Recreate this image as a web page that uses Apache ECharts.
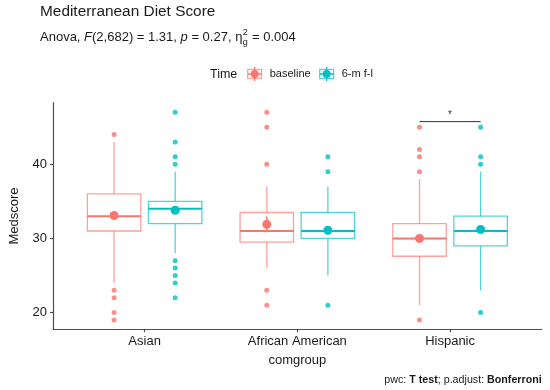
<!DOCTYPE html>
<html><head><meta charset="utf-8">
<script src="https://cdn.jsdelivr.net/npm/echarts@6/dist/echarts.min.js"></script>
<style>html,body{margin:0;padding:0;background:#fff}#c{width:550px;height:390px}</style>
</head><body><div id="c"></div>
<script>
// ---- data ----
const categories = ['Asian', 'African American', 'Hispanic'];
const groups = ['baseline', '6-m f-l'];
// [lower whisker, Q1, median, Q3, upper whisker]
const baselineBox = [[24, 31, 33, 36, 43], [26, 29.5, 31, 33.5, 37], [21, 27.6, 30, 32, 38]];
const followBox = [[28, 32, 34, 35, 39], [25, 30, 31, 33.5, 37], [23, 29, 31, 33, 39]];
const baselineMean = [33.1, 31.9, 30.0];
const followMean = [33.8, 31.1, 31.2];
const baselineSE = [0.4, 1.05, 0.4];
const followSE = [0.4, 0.5, 0.4];
const baselineOutliers = [[44, 23, 22, 20, 19], [47, 45, 40, 23, 21], [45, 42, 41, 39, 19]];
const followOutliers = [[47, 43, 41, 40, 27, 26, 25, 24, 22], [41, 39, 21], [45, 41, 40, 20]];
const yTicks = [20, 30, 40];
const sigCategory = 2;      // index of Hispanic
const sigY = 45.75;
const sigLabel = '*';

// ---- style ----
const FF = 'Liberation Sans, Arial, sans-serif';
const colors = ['#F8766D', '#00BFC4'];
const lights = ['rgba(248,118,109,0.68)', 'rgba(0,191,196,0.68)'];
const dodge = 0.2, boxWidth = 0.35;
const textColor = '#1a1a1a', axisColor = '#4d4d4d';

function boxSeries(gi, box, mean, se, offset) {
  const color = colors[gi], light = lights[gi];
  return {
    type: 'custom', name: groups[gi], z: 2,
    data: box.map((b, i) => [i + 1 + offset, b[0], b[1], b[2], b[3], b[4], mean[i], se[i]]),
    encode: { x: 0, y: [1, 2, 3, 4, 5] },
    renderItem(params, api) {
      const x = api.value(0);
      const p = k => api.coord([x, api.value(k)]);
      const lo = p(1), q1 = p(2), md = p(3), q3 = p(4), hi = p(5), mn = p(6);
      const seT = api.coord([x, api.value(6) + api.value(7)]);
      const seB = api.coord([x, api.value(6) - api.value(7)]);
      const hw = api.size([boxWidth, 0])[0] / 2;
      const cx = lo[0];
      return { type: 'group', children: [
        { type: 'line', shape: { x1: cx, y1: hi[1], x2: cx, y2: q3[1] }, style: { stroke: light, lineWidth: 1.3 } },
        { type: 'line', shape: { x1: cx, y1: q1[1], x2: cx, y2: lo[1] }, style: { stroke: light, lineWidth: 1.3 } },
        { type: 'rect', shape: { x: cx - hw, y: q3[1], width: 2 * hw, height: q1[1] - q3[1] }, style: { stroke: light, fill: 'none', lineWidth: 1.3 } },
        { type: 'line', shape: { x1: cx - hw, y1: md[1], x2: cx + hw, y2: md[1] }, style: { stroke: color, lineWidth: 2 } },
        { type: 'line', shape: { x1: cx, y1: seT[1], x2: cx, y2: seB[1] }, style: { stroke: color, lineWidth: 1.5 } },
        { type: 'circle', shape: { cx: cx, cy: mn[1], r: 4.5 }, style: { fill: color } }
      ] };
    }
  };
}
function outlierSeries(gi, outs, offset) {
  const data = [];
  outs.forEach((arr, i) => arr.forEach(v => data.push([i + 1 + offset, v])));
  return { type: 'scatter', name: groups[gi], data, symbolSize: 5, itemStyle: { color: colors[gi] }, z: 3 };
}
function icon(c, l) {
  const svg = `<svg xmlns="http://www.w3.org/2000/svg" width="16" height="14" viewBox="0 0 16 14"><line x1="8" y1="0" x2="8" y2="14" stroke="${c}" stroke-width="1.3"/><rect x="1" y="2.5" width="14" height="9" fill="none" stroke="${l}" stroke-width="1.3"/><line x1="1" y1="7" x2="15" y2="7" stroke="${c}" stroke-width="1.5"/><circle cx="8" cy="7" r="4" fill="${c}"/></svg>`;
  return 'image://data:image/svg+xml;charset=utf-8,' + encodeURIComponent(svg);
}

// subtitle with measured pieces
const mctx = document.createElement('canvas').getContext('2d');
const subSize = 13, subY = 37.5;
const subParts = [['Anova, ', 'normal'], ['F', 'italic'], ['(2,682) = 1.31, ', 'normal'], ['p', 'italic'], [' = 0.27, η', 'normal']];
const graphics = [];
let sx = 40;
subParts.forEach(([t, st]) => {
  mctx.font = `${st} ${subSize}px ${FF}`;
  graphics.push({ type: 'text', x: sx, y: subY, style: { text: t, fontSize: subSize, fontStyle: st, fontFamily: FF, fill: textColor, verticalAlign: 'middle' } });
  sx += mctx.measureText(t).width;
});
mctx.font = `9px ${FF}`;
graphics.push({ type: 'text', x: sx + 0.5, y: subY - 4.5, style: { text: '2', fontSize: 9, fontFamily: FF, fill: textColor, verticalAlign: 'middle' } });
graphics.push({ type: 'text', x: sx + 0.5, y: subY + 5.5, style: { text: 'g', fontSize: 9, fontFamily: FF, fill: textColor, verticalAlign: 'middle' } });
sx += Math.max(mctx.measureText('2').width, mctx.measureText('g').width) + 1;
graphics.push({ type: 'text', x: sx, y: subY, style: { text: ' = 0.004', fontSize: subSize, fontFamily: FF, fill: textColor, verticalAlign: 'middle' } });
// legend title
graphics.push({ type: 'text', x: 210, y: 74.3, style: { text: 'Time', fontSize: 12.5, fontFamily: FF, fill: textColor, verticalAlign: 'middle' } });
// caption
graphics.push({ type: 'text', x: 541.7, y: 380, style: {
  text: '{n|pwc: }{b|T test}{n|; p.adjust: }{b|Bonferroni}', align: 'right', verticalAlign: 'middle',
  rich: { n: { fontSize: 10.7, fontFamily: FF, fill: textColor }, b: { fontSize: 10.7, fontFamily: FF, fontWeight: 'bold', fill: textColor } } } });

const chart = echarts.init(document.getElementById('c'), null, { renderer: 'canvas' });
chart.setOption({
  animation: false,
  backgroundColor: '#fff',
  title: { text: 'Mediterranean Diet Score', left: 40, top: 4, padding: 0,
    textStyle: { fontSize: 15.4, fontWeight: 'normal', fontFamily: FF, color: textColor } },
  legend: { left: 246.7, top: 67, padding: 0, itemWidth: 16, itemHeight: 14, itemGap: 8,
    textStyle: { fontSize: 11, fontFamily: FF, color: textColor, padding: [0, 0, 0, 2] },
    data: groups.map((g, i) => ({ name: g, icon: icon(colors[i], lights[i]) })) },
  grid: { left: 40, right: 8.3, top: 102.7, bottom: 60.7 },
  xAxis: {
    type: 'value', min: 0.4, max: 3.6,
    name: 'comgroup', nameLocation: 'middle', nameGap: 25,
    nameTextStyle: { fontSize: 13, fontFamily: FF, color: textColor },
    splitLine: { show: false },
    axisLine: { show: true, onZero: false, lineStyle: { color: axisColor, width: 1.2 } },
    axisTick: { show: true, length: 3, customValues: [1, 2, 3], lineStyle: { color: axisColor, width: 1.2 } },
    axisLabel: { customValues: [1, 2, 3], formatter: v => categories[Math.round(v) - 1] || '',
      fontSize: 13, fontFamily: FF, color: textColor, margin: 6 }
  },
  yAxis: {
    type: 'value', min: 17.75, max: 48.3,
    name: 'Medscore', nameLocation: 'middle', nameGap: 32,
    nameTextStyle: { fontSize: 13, fontFamily: FF, color: textColor },
    splitLine: { show: false },
    axisLine: { show: true, onZero: false, lineStyle: { color: axisColor, width: 1.2 } },
    axisTick: { show: true, length: 3, customValues: yTicks, lineStyle: { color: axisColor, width: 1.2 } },
    axisLabel: { customValues: yTicks, fontSize: 13, fontFamily: FF, color: textColor, margin: 6 }
  },
  series: [
    boxSeries(0, baselineBox, baselineMean, baselineSE, -dodge),
    boxSeries(1, followBox, followMean, followSE, dodge),
    outlierSeries(0, baselineOutliers, -dodge),
    outlierSeries(1, followOutliers, dodge),
    {
      type: 'custom', name: 'signif', z: 4,
      data: [[sigCategory + 1 - dodge, sigCategory + 1 + dodge, sigY]],
      encode: { x: [0, 1], y: 2 },
      renderItem(params, api) {
        const a = api.coord([api.value(0), api.value(2)]);
        const b = api.coord([api.value(1), api.value(2)]);
        return { type: 'group', children: [
          { type: 'line', shape: { x1: a[0], y1: a[1], x2: b[0], y2: b[1] }, style: { stroke: '#333', lineWidth: 1 } },
          { type: 'text', x: (a[0] + b[0]) / 2, y: a[1] - 1.5, style: { text: sigLabel, fontSize: 10, fontFamily: FF, fill: '#333', align: 'center', verticalAlign: 'bottom' } }
        ] };
      }
    }
  ],
  graphic: graphics
});
</script></body></html>
